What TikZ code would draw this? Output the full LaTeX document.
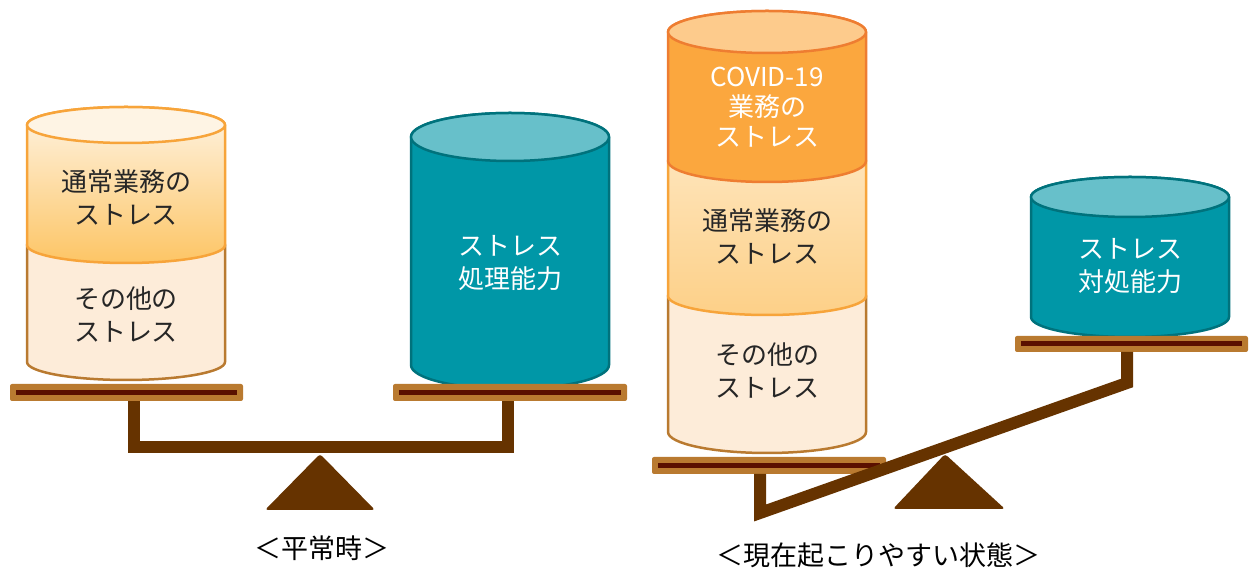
\documentclass[tikz,border=0pt]{standalone}
\usepackage{fontspec}
\setmainfont{Noto Sans CJK JP}

\definecolor{cream}{HTML}{FDECD9}
\definecolor{creamline}{HTML}{B97A30}
\definecolor{workline}{HTML}{F7A43A}
\definecolor{worktop}{HTML}{FEF4E4}
\definecolor{workbot}{HTML}{FDC565}
\definecolor{worktopB}{HTML}{FEE6BE}
\definecolor{workbotB}{HTML}{FDD088}
\definecolor{covid}{HTML}{FBA73E}
\definecolor{covidtop}{HTML}{FDCB8C}
\definecolor{covidline}{HTML}{EE7D31}
\definecolor{tank}{HTML}{0097A7}
\definecolor{tanktop}{HTML}{67C0CA}
\definecolor{tankline}{HTML}{00727C}
\definecolor{traytan}{HTML}{B97A30}
\definecolor{traydark}{HTML}{5A1000}
\definecolor{beam}{HTML}{663300}
\definecolor{ink}{HTML}{262626}

\begin{document}
\begin{tikzpicture}[x=1pt,y=1pt,
    can/.style={line width=2.5pt, line join=round},
    txt/.style={font=\fontsize{26}{33}\selectfont, align=center, text=ink},
    wtxt/.style={txt, text=white},
    tray/.style={fill=traytan, rounded corners=2pt},
    trayline/.style={draw=traydark, line width=5pt},
    arm/.style={draw=beam, line width=12pt},
    title/.style={font=\fontsize{27}{30}\selectfont, text=black}]
\useasboundingbox (0,0) rectangle (1254,575);

% ---- normal time ----
% other stress (bottom)
\draw[can, draw=creamline, fill=cream] (27,330) -- (27,213)
    arc[start angle=180, end angle=360, x radius=99pt, y radius=18pt] -- (225,330)
    arc[start angle=0, end angle=180, x radius=99pt, y radius=18pt] -- cycle;
% usual work stress (top)
\draw[can, draw=workline, top color=worktop, bottom color=workbot] (27,450) -- (27,330)
    arc[start angle=180, end angle=360, x radius=99pt, y radius=18pt] -- (225,450)
    arc[start angle=0, end angle=180, x radius=99pt, y radius=18pt] -- cycle;
\draw[can, draw=workline, fill=worktop] (126,450) ellipse[x radius=99pt, y radius=18pt];
% coping tank
\draw[can, draw=tankline, fill=tank] (411,438) -- (411,210)
    arc[start angle=180, end angle=360, x radius=99pt, y radius=24pt] -- (609,438)
    arc[start angle=0, end angle=180, x radius=99pt, y radius=24pt] -- cycle;
\draw[can, draw=tankline, fill=tanktop] (510,438) ellipse[x radius=99pt, y radius=24pt];

\node[txt] (calmWork) at (126,378) {通常業務の\\ストレス};
\node[txt] (calmOther) at (126,260) {その他の\\ストレス};
\node[wtxt] (calmCope) at (510,312) {ストレス\\処理能力};

% balance, level
\draw[arm] (134,174) -- (134,128) -- (508,128) -- (508,174);
\fill[beam, rounded corners=3pt] (320,121) -- (375,65) -- (265,65) -- cycle;
\fill[tray] (10,174) rectangle (243,191);
\draw[trayline] (16,182.5) -- (237,182.5);
\fill[tray] (393,174) rectangle (627,191);
\draw[trayline] (399,182.5) -- (621,182.5);

\node[title] (calmTitle) at (322,27) {＜平常時＞};

% ---- now ----
% other stress (bottom)
\draw[can, draw=creamline, fill=cream] (668,279) -- (668,143)
    arc[start angle=180, end angle=360, x radius=99pt, y radius=21pt] -- (866,279)
    arc[start angle=0, end angle=180, x radius=99pt, y radius=21pt] -- cycle;
% usual work stress (middle)
\draw[can, draw=workline, top color=worktopB, bottom color=workbotB] (668,414) -- (668,279)
    arc[start angle=180, end angle=360, x radius=99pt, y radius=19pt] -- (866,414)
    arc[start angle=0, end angle=180, x radius=99pt, y radius=19pt] -- cycle;
% covid work stress (top)
\draw[can, draw=covidline, fill=covid] (668,543) -- (668,414)
    arc[start angle=180, end angle=360, x radius=99pt, y radius=21pt] -- (866,543)
    arc[start angle=0, end angle=180, x radius=99pt, y radius=21pt] -- cycle;
\draw[can, draw=covidline, fill=covidtop] (767,543) ellipse[x radius=99pt, y radius=21pt];
% coping tank
\draw[can, draw=tankline, fill=tank] (1031,378) -- (1031,258)
    arc[start angle=180, end angle=360, x radius=99pt, y radius=20pt] -- (1229,378)
    arc[start angle=0, end angle=180, x radius=99pt, y radius=20pt] -- cycle;
\draw[can, draw=tankline, fill=tanktop] (1130,378) ellipse[x radius=99pt, y radius=20pt];

\node[wtxt, font=\fontsize{26}{30}\selectfont] (nowCovid) at (767,468) {COVID-19\\業務の\\ストレス};
\node[txt] (nowWork) at (767,339) {通常業務の\\ストレス};
\node[txt] (nowOther) at (767,204) {その他の\\ストレス};
\node[wtxt] (nowCope) at (1130,309) {ストレス\\対処能力};

% balance, tipped
\fill[tray] (652,101) rectangle (886,118);
\draw[trayline] (658,109.5) -- (880,109.5);
\fill[tray] (1015,223) rectangle (1248,239);
\draw[trayline] (1021,231) -- (1242,231);
\fill[beam, rounded corners=3pt] (945,121) -- (1005,66) -- (893,66) -- cycle;
\draw[arm] (760,101) -- (760,62) -- (1127,192) -- (1127,223);

\node[title] (nowTitle) at (878,20) {＜現在起こりやすい状態＞};
\end{tikzpicture}
\end{document}
